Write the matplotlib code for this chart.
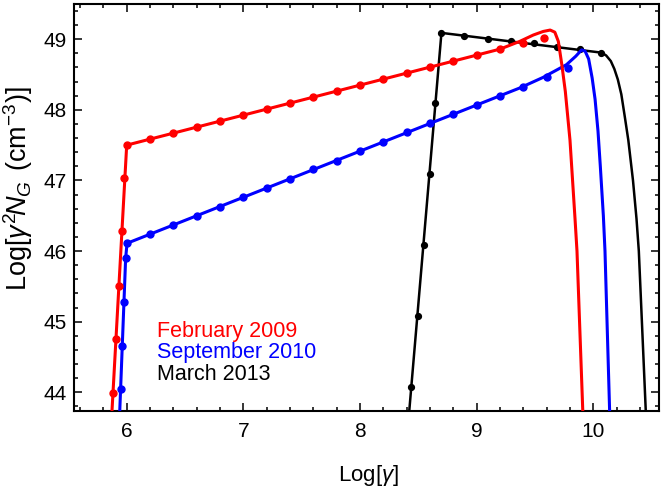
import matplotlib
matplotlib.use("Agg")
import matplotlib.pyplot as plt
from matplotlib.ticker import MultipleLocator

plt.rcParams['font.family'] = ['Liberation Sans', 'DejaVu Sans']
plt.rcParams['mathtext.fontset'] = 'custom'
plt.rcParams['mathtext.rm'] = 'Liberation Sans'
plt.rcParams['mathtext.it'] = 'Liberation Sans:italic'

# ---- data: February 2009 (red) ----
feb_dot_x = [5.882, 5.908, 5.933, 5.959, 5.981, 6.0, 6.2, 6.4, 6.6, 6.8, 7.0, 7.2, 7.4, 7.6,
             7.8, 8.0, 8.2, 8.4, 8.6, 8.8, 9.0, 9.2, 9.4, 9.58]
feb_dot_y = [43.99, 44.75, 45.51, 46.28, 47.04, 47.50, 47.59, 47.67, 47.76, 47.84, 47.93, 48.01,
             48.10, 48.18, 48.27, 48.35, 48.44, 48.52, 48.61, 48.69, 48.78, 48.86, 48.94, 49.02]
feb_curve_x = [5.866, 6.0, 9.2, 9.37, 9.486, 9.57, 9.63, 9.67, 9.70, 9.73, 9.76, 9.80,
               9.843, 9.86, 9.91, 9.915]
feb_curve_y = [43.5, 47.50, 48.86, 48.97, 49.06, 49.11, 49.13, 49.10, 48.97, 48.64, 48.26,
               47.57, 46.46, 46.0, 43.72, 43.5]

# ---- data: September 2010 (blue) ----
sep_dot_x = [5.948, 5.962, 5.977, 5.991, 6.003, 6.2, 6.4, 6.6, 6.8, 7.0, 7.2, 7.4, 7.6, 7.8,
             8.0, 8.2, 8.4, 8.6, 8.8, 9.0, 9.2, 9.4, 9.6, 9.78]
sep_dot_y = [44.05, 44.66, 45.28, 45.90, 46.11, 46.24, 46.37, 46.50, 46.63, 46.76, 46.89, 47.02,
             47.16, 47.28, 47.42, 47.55, 47.68, 47.81, 47.94, 48.07, 48.20, 48.33, 48.46, 48.59]
sep_curve_x = [5.935, 5.991, 6.003, 9.37, 9.57, 9.77, 9.85, 9.90, 9.93, 9.96, 9.99, 10.015,
               10.04, 10.06, 10.086, 10.10, 10.14, 10.145]
sep_curve_y = [43.5, 45.90, 46.11, 48.31, 48.46, 48.64, 48.76, 48.85, 48.83, 48.72, 48.45,
               48.15, 47.70, 47.20, 46.50, 46.0, 43.72, 43.5]

# ---- data: March 2013 (black) ----
mar_dot_x = [8.439, 8.494, 8.545, 8.596, 8.646, 8.698, 8.894, 9.095, 9.295, 9.495, 9.69, 9.89, 10.07]
mar_dot_y = [44.07, 45.08, 46.08, 47.09, 48.10, 49.09, 49.05, 49.01, 48.98, 48.94, 48.89, 48.86, 48.81]
mar_curve_x = [8.41, 8.698, 10.07, 10.11, 10.15, 10.18, 10.21, 10.24, 10.27, 10.30, 10.34,
               10.37, 10.39, 10.45, 10.455]
mar_curve_y = [43.5, 49.09, 48.81, 48.77, 48.69, 48.58, 48.43, 48.22, 47.90, 47.57, 47.0,
               46.46, 46.0, 43.72, 43.5]

labels = ['February 2009', 'September 2010', 'March 2013']
colors = ['#ff0000', '#0000ff', '#000000']

fig = plt.figure(figsize=(6.64, 4.91), dpi=100)
ax = fig.add_axes([0.1107, 0.163, 0.8823, 0.829])

ax.plot(mar_curve_x, mar_curve_y, color=colors[2], lw=1.8, zorder=2)
ax.plot(mar_dot_x, mar_dot_y, 'o', color=colors[2], ms=4.2, zorder=2)
ax.plot(sep_curve_x, sep_curve_y, color=colors[1], lw=2.2, zorder=3)
ax.plot(sep_dot_x, sep_dot_y, 'o', color=colors[1], ms=5, zorder=3)
ax.plot(feb_curve_x, feb_curve_y, color=colors[0], lw=2.2, zorder=4)
ax.plot(feb_dot_x, feb_dot_y, 'o', color=colors[0], ms=5, zorder=4)

ax.set_xlim(5.544, 10.566)
ax.set_ylim(43.735, 49.5)
ax.xaxis.set_major_locator(MultipleLocator(1))
ax.xaxis.set_minor_locator(MultipleLocator(0.2))
ax.yaxis.set_major_locator(MultipleLocator(1))
ax.yaxis.set_minor_locator(MultipleLocator(0.2))
ax.tick_params(which='both', direction='in', top=True, right=True, width=1.1, color='black')
ax.tick_params(which='major', length=5.5, labelsize=15)
ax.tick_params(which='minor', length=3)
ax.tick_params(axis='x', which='major', pad=8)
ax.tick_params(axis='y', which='major', pad=5)
for s in ax.spines.values():
    s.set_linewidth(1.5)

ax.set_xlabel(r'Log[$\gamma$]', fontsize=16)
ax.xaxis.set_label_coords(0.503, -0.128)
ax.set_ylabel(r'Log[$\gamma^2\!N_G\;\,$(cm$^{-3}$)]', fontsize=19.5)
ax.yaxis.set_label_coords(-0.066, 0.545)

for i, (lab, c) in enumerate(zip(labels, colors)):
    fig.text(0.236, 0.3143 - i * 0.0442, lab, color=c, fontsize=15.5, va='baseline', ha='left')

fig.savefig('out.png', dpi=100)
